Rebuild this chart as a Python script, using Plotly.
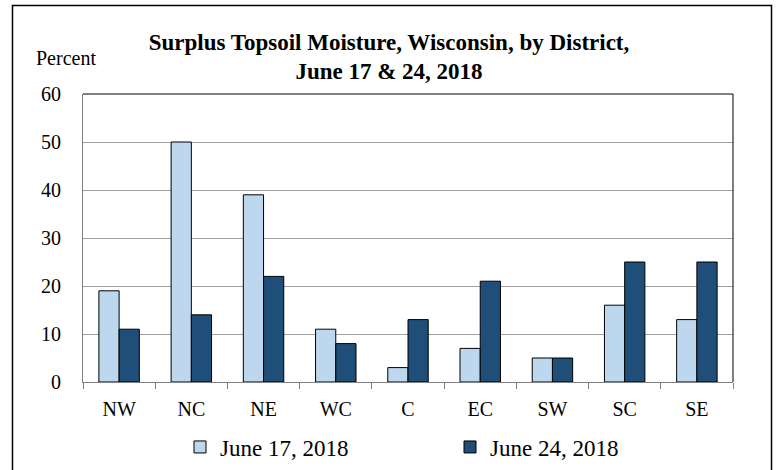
import plotly.graph_objects as go

districts = ["NW", "NC", "NE", "WC", "C", "EC", "SW", "SC", "SE"]
june17 = [19, 50, 39, 11, 3, 7, 5, 16, 13]
june24 = [11, 14, 22, 8, 13, 21, 5, 25, 25]
series_names = ["June 17, 2018", "June 24, 2018"]
y_ticks = [0, 10, 20, 30, 40, 50, 60]

FONT = "Liberation Serif"

fig = go.Figure()
fig.add_trace(go.Bar(x=districts, y=june17, name=series_names[0],
                     marker=dict(color="#BDD7EE", line=dict(color="black", width=1))))
fig.add_trace(go.Bar(x=districts, y=june24, name=series_names[1],
                     marker=dict(color="#1F4E79", line=dict(color="black", width=1))))

L, R, T, B = 83, 44, 94, 88
W, H = 777, 470
pw, ph = W - L - R, H - T - B

def px_x(p):
    return (p - L) / pw

def px_y(p):
    return (H - B - p) / ph

fig.update_layout(
    width=W, height=H,
    margin=dict(l=L, r=R, t=T, b=B, autoexpand=False),
    paper_bgcolor="white", plot_bgcolor="white",
    font=dict(family=FONT, size=20, color="black"),
    barmode="group", bargap=0.44, bargroupgap=0,
    title=dict(text="<b>Surplus Topsoil Moisture, Wisconsin, by District,<br>June 17 & 24, 2018</b>",
               x=px_x(389), xref="paper", xanchor="center",
               y=1 - 49.5 / H, yref="container", yanchor="middle",
               font=dict(family=FONT, size=23, color="black")),
    legend=dict(orientation="h", x=px_x(180), xanchor="left", y=px_y(447), yanchor="middle",
                font=dict(family=FONT, size=23), entrywidth=225, entrywidthmode="pixels",
                bgcolor="rgba(0,0,0,0)", traceorder="normal", itemwidth=30),
    showlegend=True,
    xaxis=dict(showline=True, linecolor="#808080", linewidth=1, mirror=False,
               ticks="outside", ticklen=6, tickcolor="#808080", tickson="boundaries",
               tickfont=dict(family=FONT, size=20), showgrid=False,
               ticklabelstandoff=9),
    yaxis=dict(range=[0, 60], tickvals=y_ticks, showgrid=True, gridcolor="#A0A0A0",
               gridwidth=1, showline=True, linecolor="#808080", linewidth=1,
               ticks="", tickfont=dict(family=FONT, size=20), zeroline=False,
               ticklabelstandoff=17),
    shapes=[
        dict(type="line", xref="paper", yref="paper", x0=0, x1=1, y0=1, y1=1,
             line=dict(color="black", width=1)),
        dict(type="line", xref="paper", yref="paper", x0=1, x1=1, y0=0, y1=1,
             line=dict(color="black", width=1)),
        dict(type="rect", xref="paper", yref="paper", x0=px_x(12.5), x1=px_x(771.5),
             y0=px_y(478), y1=px_y(5.5), line=dict(color="black", width=1.5),
             fillcolor="rgba(0,0,0,0)", layer="above"),
    ],
    annotations=[
        dict(text="Percent", xref="paper", yref="paper", x=px_x(66), y=px_y(58),
             xanchor="center", yanchor="middle", showarrow=False,
             font=dict(family=FONT, size=20)),
    ],
)

fig.write_html("out.html", config={"displayModeBar": False},
               post_script="document.body.style.margin='0';")
